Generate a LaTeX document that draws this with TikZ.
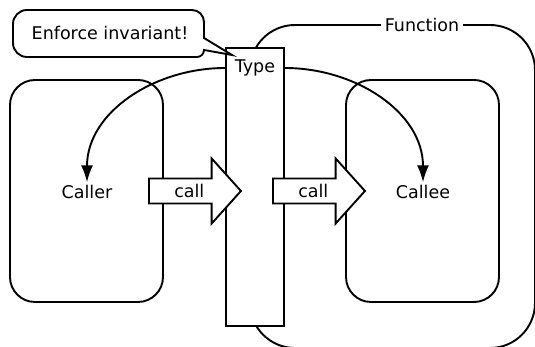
\documentclass[tikz,border=0pt]{standalone}
\usepackage{fontspec}
\setmainfont{DejaVu Sans}
\usepackage{tikz}
\usetikzlibrary{arrows.meta,positioning,shapes.arrows}

\begin{document}
\begin{tikzpicture}[x=1pt, y=1pt,
  font=\fontsize{17.5}{19}\selectfont,
  line width=1.9pt,
  region/.style={draw, rounded corners=25pt, minimum width=153pt, minimum height=222pt},
  outer/.style={draw, fill=white, rounded corners=45pt, minimum width=285pt, minimum height=323pt},
  guard/.style={draw, fill=white, minimum width=58pt, minimum height=278pt},
  callarrow/.style={single arrow, draw, fill=white, single arrow head extend=15.5pt, minimum width=65pt, minimum height=92pt, single arrow tip angle=96, inner sep=2pt},
  flow/.style={-{Latex[length=17pt,width=12pt]}},
  tag/.style={fill=white, inner sep=4pt},
  word/.style={inner sep=2pt}
]
  \useasboundingbox (0,0) rectangle (535,347);

  % function and the two sides
  \node[outer] (function) at (392.5,160.5) {};
  \node[tag] (functionname) at (422,322) {Function};
  \node[region] (callerbox) at (86.5,156) {};
  \node[region] (calleebox) at (422.5,156) {};
  \node[word] (caller) at (87,155) {Caller};
  \node[word] (callee) at (423,155) {Callee};

  % the type in between
  \node[guard] (typebox) at (255,160) {};
  \node[minimum width=58pt, inner sep=0pt] (type) at (255,279) {Type};
  \draw[flow] (type.west) to[out=180, in=90] (caller.north);
  \draw[flow] (type.east) to[out=0, in=90] (callee.north);

  \node[callarrow, anchor=tail] (leftcall) at (148,156) {call};
  \node[callarrow, anchor=tail] (rightcall) at (272,156) {call};

  % speech bubble
  \draw[fill=white] (204,309) -- (204,325) arc[start angle=0, end angle=90, radius=12]
    -- (27,337) arc[start angle=90, end angle=180, radius=14]
    -- (13,304) arc[start angle=180, end angle=270, radius=14]
    -- (197,290) arc[start angle=270, end angle=360, radius=7] -- (232,292) -- cycle;
  \node[word] (invariant) at (110,314) {Enforce invariant!};
\end{tikzpicture}
\end{document}
